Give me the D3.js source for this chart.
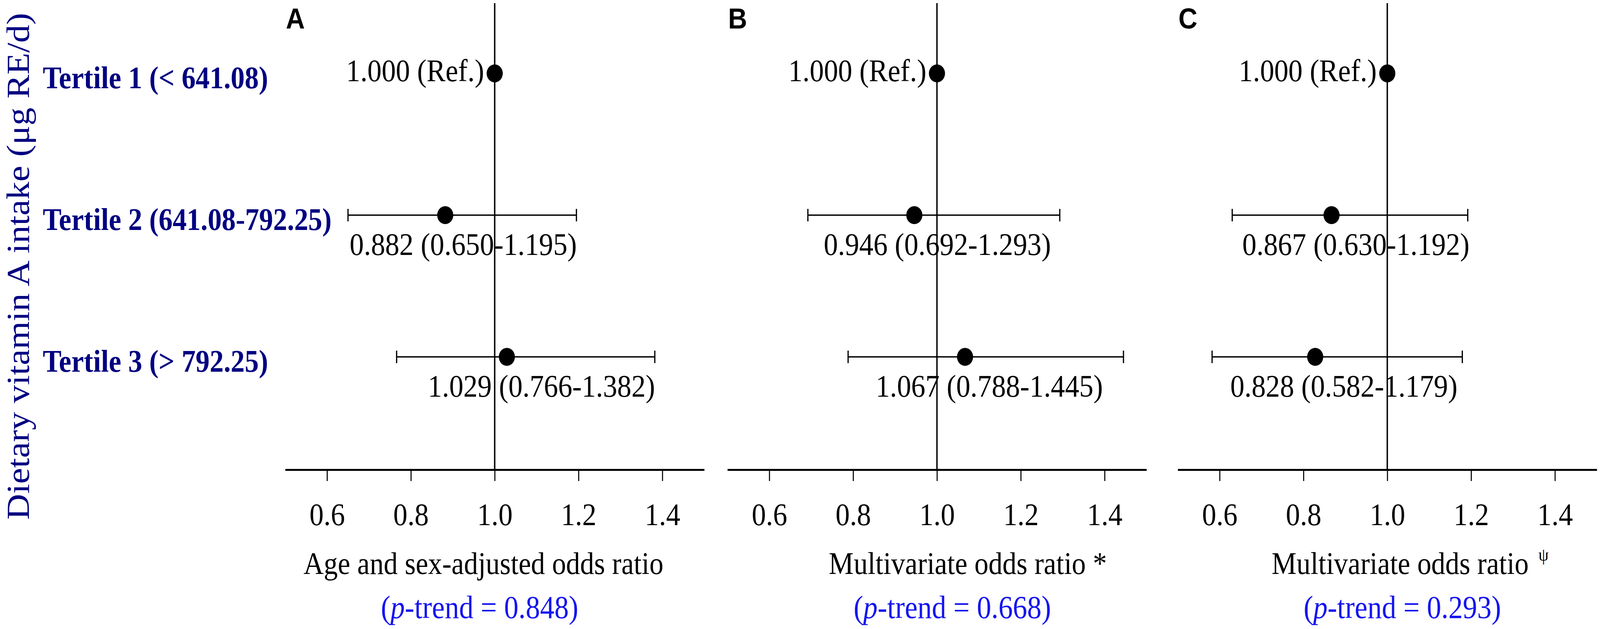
<!DOCTYPE html>
<html>
<head>
<meta charset="utf-8">
<script src="https://cdn.jsdelivr.net/npm/d3@7"></script>
<style>
  html, body { margin: 0; padding: 0; width: 100%; height: 100%; background: #fff; overflow: hidden; }
  svg { display: block; width: 100vw; height: 100vh; }
  text { font-family: "Times New Roman", "Liberation Serif", serif; }
</style>
</head>
<body>
<script>
// data
var tertiles = ["Tertile 1 (< 641.08)", "Tertile 2 (641.08-792.25)", "Tertile 3 (> 792.25)"];
var panelNames = ["A", "B", "C"];
var orA = [1.000, 0.882, 1.029], lowA = [null, 0.650, 0.766], highA = [null, 1.195, 1.382];
var orB = [1.000, 0.946, 1.067], lowB = [null, 0.692, 0.788], highB = [null, 1.293, 1.445];
var orC = [1.000, 0.867, 0.828], lowC = [null, 0.630, 0.582], highC = [null, 1.192, 1.179];
var xTitles = ["Age and sex-adjusted odds ratio", "Multivariate odds ratio *", "Multivariate odds ratio"];
var titleMarks = [null, null, "\u03C8"];
var pTrend = ["0.848", "0.668", "0.293"];
var tickVals = [0.6, 0.8, 1.0, 1.2, 1.4];
var yTitle = "Dietary vitamin A intake (\u03BCg RE/d)";

// layout (not data)
var W = 4562, H = 1611;
var panelLeft = [813, 2074, 3358], panelW = 1195;
var axisY = 1203;
var labelNudge = [[0, 3, 45], [0, 10, 10], [0, 17, 19]];
var titleNudge = [-32, 88, 65], pNudge = [-43, 44, 43];

var series = [
  {or: orA, low: lowA, high: highA},
  {or: orB, low: lowB, high: highB},
  {or: orC, low: lowC, high: highC}
];

// fill whatever viewport we get, mapped onto the 4562x1611 figure
var svg = d3.select("body").append("svg")
  .attr("viewBox", "0 0 " + W + " " + H)
  .attr("preserveAspectRatio", "none");

var y = d3.scalePoint().domain(tertiles).range([188, 914]);
var fmt = d3.format(".3f");

// y axis title
svg.append("text")
  .attr("transform", "translate(82,682) rotate(-90)")
  .attr("text-anchor", "middle")
  .attr("style", "font-size:92px;fill:#000080")
  .text(yTitle);

// tertile labels
svg.selectAll("text.tert").data(tertiles).enter().append("text")
  .attr("class", "tert")
  .attr("x", 122)
  .attr("y", function(d) { return y(d) + 38; })
  .attr("style", "font-size:80px;font-weight:bold;fill:#000080")
  .text(function(d) { return d; });

series.forEach(function(s, p) {
  var x = d3.scaleLinear().domain([0.5, 1.5]).range([panelLeft[p], panelLeft[p] + panelW]);
  var g = svg.append("g");

  // panel letter
  g.append("text")
    .attr("x", panelLeft[p] + 2)
    .attr("y", 73)
    .attr("style", "font-family:'Liberation Sans',Arial,sans-serif;font-size:75px;font-weight:bold;fill:#000")
    .text(panelNames[p]);

  // x axis
  var ax = g.append("g")
    .attr("transform", "translate(0," + axisY + ")")
    .call(d3.axisBottom(x).tickValues(tickVals).tickFormat(d3.format(".1f")).tickSize(29).tickSizeOuter(0));
  ax.select(".domain").attr("stroke", "#000").attr("stroke-width", 5);
  ax.selectAll(".tick line").attr("stroke", "#000").attr("stroke-width", 3);
  ax.selectAll(".tick text")
    .attr("y", 142).attr("dy", null)
    .attr("fill", "#000")
    .attr("style", "font-family:'Times New Roman','Liberation Serif',serif;font-size:81px");

  // reference line at 1
  g.append("line")
    .attr("x1", x(1)).attr("x2", x(1))
    .attr("y1", 8).attr("y2", axisY)
    .attr("stroke", "#000").attr("stroke-width", 4);

  var rows = tertiles.map(function(t, i) {
    return {t: t, i: i, or: s.or[i], low: s.low[i], high: s.high[i]};
  });
  var ci = rows.filter(function(d) { return d.low != null; });

  // CI whiskers
  g.selectAll("line.ci").data(ci).enter().append("line")
    .attr("class", "ci")
    .attr("x1", function(d) { return x(d.low); })
    .attr("x2", function(d) { return x(d.high); })
    .attr("y1", function(d) { return y(d.t); })
    .attr("y2", function(d) { return y(d.t); })
    .attr("stroke", "#000").attr("stroke-width", 3.5);
  ["low", "high"].forEach(function(k) {
    g.selectAll("line.cap" + k).data(ci).enter().append("line")
      .attr("class", "cap" + k)
      .attr("x1", function(d) { return x(d[k]); })
      .attr("x2", function(d) { return x(d[k]); })
      .attr("y1", function(d) { return y(d.t) - 16; })
      .attr("y2", function(d) { return y(d.t) + 16; })
      .attr("stroke", "#000").attr("stroke-width", 3.5);
  });

  // points
  g.selectAll("circle").data(rows).enter().append("circle")
    .attr("cx", function(d) { return x(d.or); })
    .attr("cy", function(d) { return y(d.t); })
    .attr("r", 23)
    .attr("fill", "#000");

  // value labels
  g.selectAll("text.val").data(rows).enter().append("text")
    .attr("class", "val")
    .attr("x", function(d) {
      if (d.low == null) return x(d.or) - 30;
      return (x(d.low) + x(d.high)) / 2 + labelNudge[p][d.i];
    })
    .attr("y", function(d) { return y(d.t) + (d.low == null ? 20 : 102); })
    .attr("text-anchor", function(d) { return d.low == null ? "end" : "middle"; })
    .attr("style", "font-size:81px;fill:#000")
    .text(function(d) {
      if (d.low == null) return fmt(d.or) + " (Ref.)";
      return fmt(d.or) + " (" + fmt(d.low) + "-" + fmt(d.high) + ")";
    });

  // x title
  var tt = g.append("text")
    .attr("x", x(1) + titleNudge[p])
    .attr("y", 1470)
    .attr("text-anchor", "middle")
    .attr("style", "font-size:80px;fill:#000")
    .text(xTitles[p]);
  if (titleMarks[p]) {
    tt.append("tspan")
      .attr("dx", 28).attr("dy", -34)
      .attr("style", "font-size:46px")
      .text(titleMarks[p]);
  }

  // p-trend
  var pt = g.append("text")
    .attr("x", x(1) + pNudge[p])
    .attr("y", 1583)
    .attr("text-anchor", "middle")
    .attr("style", "font-size:82px;fill:#1414f0");
  pt.append("tspan").text("(");
  pt.append("tspan").attr("font-style", "italic").text("p");
  pt.append("tspan").text("-trend = " + pTrend[p] + ")");
});
</script>
</body>
</html>
